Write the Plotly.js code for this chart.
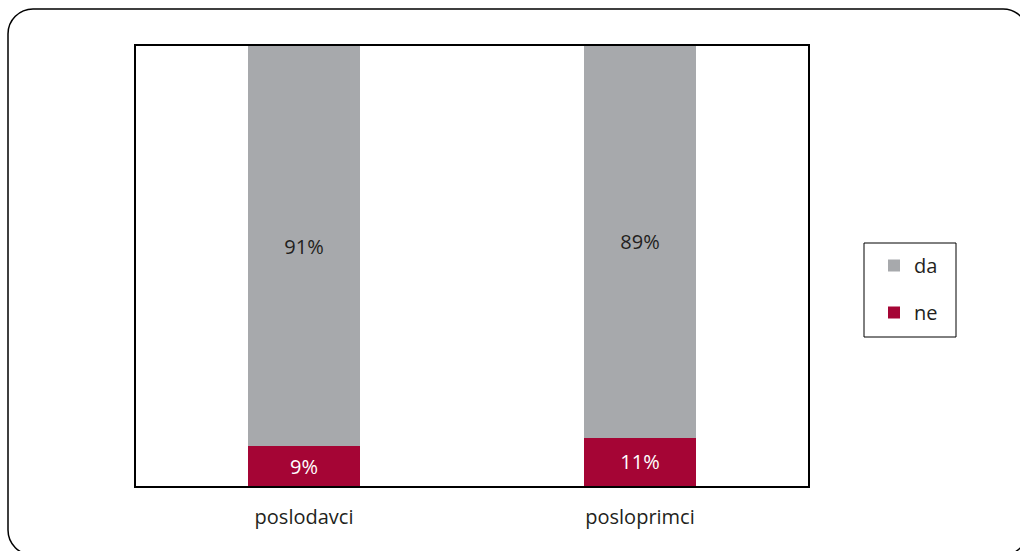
<!DOCTYPE html>
<html>
<head>
<meta charset="utf-8">
<script src="https://cdn.plot.ly/plotly-3.0.1.min.js"></script>
<style>html,body{margin:0;padding:0;background:#fff;}#chart{width:1020px;height:551px;}</style>
</head>
<body>
<div id="chart"></div>
<script>
var categories = ["poslodavci", "posloprimci"];
var daValues = [91, 89];
var neValues = [9, 11];
var daLabels = ["91%", "89%"];
var neLabels = ["9%", "11%"];

var W = 1020, H = 551;
var M = {l: 136, r: 212, t: 46, b: 65};
var PW = W - M.l - M.r, PH = H - M.t - M.b;
function px(x) { return (x - M.l) / PW; }
function py(y) { return (H - M.b - y) / PH; }

function roundRect(x0, y0, x1, y1, r) {
  var k = 0.5523 * r;
  var p = [];
  p.push('M', px(x0 + r), py(y0));
  p.push('L', px(x1 - r), py(y0));
  p.push('C', px(x1 - r + k), py(y0), px(x1), py(y0 + r - k), px(x1), py(y0 + r));
  p.push('L', px(x1), py(y1 - r));
  p.push('C', px(x1), py(y1 - r + k), px(x1 - r + k), py(y1), px(x1 - r), py(y1));
  p.push('L', px(x0 + r), py(y1));
  p.push('C', px(x0 + r - k), py(y1), px(x0), py(y1 - r + k), px(x0), py(y1 - r));
  p.push('L', px(x0), py(y0 + r));
  p.push('C', px(x0), py(y0 + r - k), px(x0 + r - k), py(y0), px(x0 + r), py(y0));
  p.push('Z');
  var s = '';
  for (var i = 0; i < p.length; i++) {
    if (typeof p[i] === 'string') s += p[i];
    else { s += p[i] + ',' + p[i + 1] + ' '; i++; }
  }
  return s;
}

var FONT = "'Open Sans', 'Liberation Sans', sans-serif";
var FS = 20;
var traces = [
  {
    type: 'bar', name: 'ne', x: categories, y: neValues, text: neLabels,
    textposition: 'inside', insidetextanchor: 'middle', textangle: 0,
    textfont: {family: FONT, size: FS, color: '#ffffff'},
    marker: {color: '#a50535'}, width: 0.333, legendgroup: 'ne', legendrank: 2, hoverinfo: 'none'
  },
  {
    type: 'bar', name: 'da', x: categories, y: daValues, text: daLabels,
    textposition: 'inside', insidetextanchor: 'middle', textangle: 0,
    textfont: {family: FONT, size: FS, color: '#231f20'},
    marker: {color: '#a7a9ac'}, width: 0.333, legendgroup: 'da', legendrank: 1, hoverinfo: 'none'
  }
];

var layout = {
  width: W, height: H,
  margin: M,
  paper_bgcolor: '#ffffff', plot_bgcolor: '#ffffff',
  barmode: 'stack',
  showlegend: true,
  font: {family: FONT, size: FS, color: '#231f20'},
  xaxis: {
    range: [-0.5, 1.5], showline: true, linecolor: '#000', linewidth: 2, mirror: true,
    showgrid: false, zeroline: false, ticks: '', ticklabelstandoff: 12,
    tickfont: {family: FONT, size: FS, color: '#231f20'}
  },
  yaxis: {
    range: [0, 100], showline: true, linecolor: '#000', linewidth: 2, mirror: true,
    showgrid: false, zeroline: false, showticklabels: false, ticks: ''
  },
  legend: {
    x: px(874), y: py(246), xanchor: 'left', yanchor: 'top',
    traceorder: 'grouped', tracegroupgap: 18, itemwidth: 30,
    bgcolor: 'rgba(0,0,0,0)', borderwidth: 0,
    font: {family: FONT, size: FS, color: '#231f20'}
  },
  shapes: [
    {type: 'path', xref: 'paper', yref: 'paper', path: roundRect(8, 9, 1028, 555, 25),
     line: {color: '#000', width: 1.5}, fillcolor: 'rgba(0,0,0,0)', layer: 'below'},
    {type: 'rect', xref: 'paper', yref: 'paper', x0: px(864), x1: px(956), y0: py(243), y1: py(337),
     line: {color: '#000', width: 1}, fillcolor: 'rgba(0,0,0,0)'}
  ]
};

Plotly.newPlot('chart', traces, layout, {displayModeBar: false, staticPlot: true});
</script>
</body>
</html>
